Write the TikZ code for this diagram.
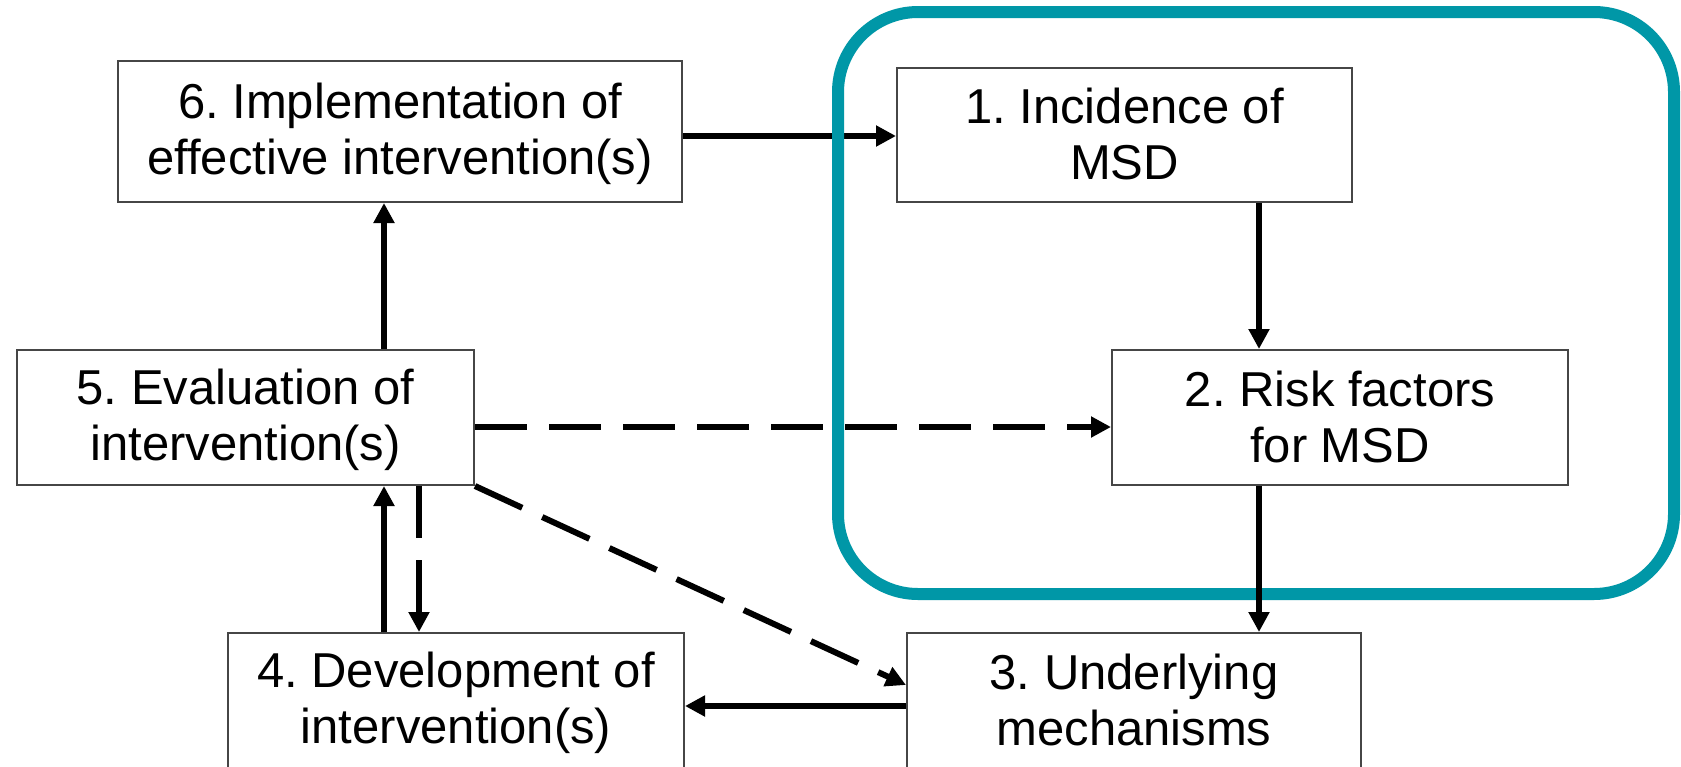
\documentclass[tikz,border=0pt]{standalone}
\usepackage{fontspec}
\setmainfont{Liberation Sans}
\usetikzlibrary{arrows.meta}
\definecolor{tealframe}{RGB}{0,151,167}
\definecolor{boxline}{RGB}{70,70,70}
\newcommand{\mystrut}{\rule[-3.5pt]{0pt}{23.5pt}}
\frenchspacing
\begin{document}
\begin{tikzpicture}[x=0.5pt,y=-0.5pt,
  box/.style={draw=boxline,line width=1pt,fill=white,align=center,inner sep=0pt,
    font=\fontsize{24.5}{28}\selectfont},
  conn/.style={line width=3pt,-{Triangle[length=10pt,width=10pt]}},
  dashconn/.style={conn,dash pattern=on 26pt off 11pt}]
\clip (0,0) rectangle (1681,766);
\fill[white] (0,0) rectangle (1681,766);
% boxes
\node[box,minimum width=282pt,minimum height=70.5pt] (b6) at (400,131.5) {\mystrut 6. Implementation of\\\mystrut effective intervention(s)};
\node[box,minimum width=227.5pt,minimum height=67pt] (b1) at (1124.5,135) {\mystrut 1. Incidence of\\\mystrut MSD};
\node[box,minimum width=228.5pt,minimum height=67.5pt] (b5) at (245.5,417.5) {\mystrut 5. Evaluation of\\\mystrut intervention(s)};
\node[box,minimum width=228pt,minimum height=67.5pt] (b2) at (1340,417.5) {\mystrut 2. Risk factors\\\mystrut for MSD};
\node[box,minimum width=227pt,minimum height=68pt] (b3) at (1134,701) {\mystrut 3. Underlying\\\mystrut mechanisms};
\node[box,minimum width=228pt,minimum height=68pt] (b4) at (456,701) {\mystrut 4. Development of\\\mystrut intervention(s)};
% connectors
\draw[conn] (b6.east |- 0,136) -- (b1.west |- 0,136);
\draw[conn] (b1.south -| 1259,0) -- (b2.north -| 1259,0);
\draw[conn] (b3.west |- 0,706) -- (b4.east |- 0,706);
\draw[conn] (b4.north -| 384,0) -- (b5.south -| 384,0);
\draw[dashconn] (b5.south -| 419,0) -- (b4.north -| 419,0);
\draw[conn] (b5.north -| 384,0) -- (b6.south -| 384,0);
\draw[dashconn] (b5.east |- 0,427) -- (b2.west |- 0,427);
\draw[dashconn] (b5.south east) -- (b3.west |- 0,685);
% teal frame
\draw[tealframe,line width=6pt,rounded corners=40pt] (838,12) rectangle (1674,594);
\draw[conn] (b2.south -| 1259,0) -- (b3.north -| 1259,0);
\end{tikzpicture}
\end{document}
